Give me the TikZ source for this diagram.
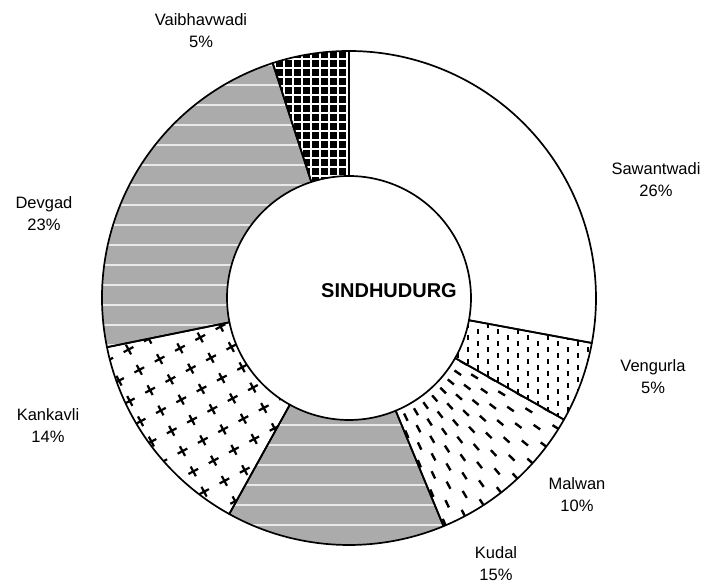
\documentclass[tikz,border=0pt]{standalone}
\usepackage{fontspec}
\setmainfont{Liberation Sans}
\usetikzlibrary{calc}
\definecolor{dstipple}{HTML}{ABABAB}
% one ring sector, from angle #1 to angle #2 (clockwise)
\newcommand{\ringpart}[2]{(349,287) ++(#1:247) arc[start angle=#1, end angle=#2, radius=247] -- ($(349,287)+(#2:122)$) arc[start angle=#2, end angle=#1, radius=122] -- cycle}

\begin{document}
\begin{tikzpicture}[x=1pt, y=1pt, line join=round,
  edge/.style={line width=1.7pt},
  vdash/.style={line width=2pt},
  mdash/.style={line width=2.4pt},
  xmark/.style={line width=2.2pt},
  band/.style={white, line width=2.5pt, opacity=0.75},
  gridline/.style={white, line width=1.5pt},
  lbl/.style={font=\fontsize{16.5}{22}\selectfont, align=center, inner sep=0pt}]
\useasboundingbox (0,0) rectangle (704,585);
% Vengurla : short vertical dashes
\begin{scope}
\clip \ringpart{-10.5}{-29.5};
\foreach \i in {0,...,15}
  \foreach \j in {0,...,9}{
    \draw[vdash] ({448+\i*10},{274-\j*12-mod(\i,2)*6}) -- ++(0,-5);}
\end{scope}
% Malwan : radial dashes
\begin{scope}
\clip \ringpart{-29.5}{-67.5};
\foreach \r [count=\k] in {128,144,...,256}
  \foreach \a in {-27,-32,...,-72}{
    \pgfmathsetmacro\b{\a+mod(\k,2)*2.5}
    \draw[mdash] ($(349,287)+({\b}:{\r})$) -- ($(349,287)+({\b}:{\r+8})$);}
\end{scope}
% Kudal and Devgad : grey stipple with light bands
\foreach \a/\b in {-67.5/-119, -168.5/-252}{
  \fill[dstipple] \ringpart{\a}{\b};
  \begin{scope}
  \clip \ringpart{\a}{\b};
  \foreach \y in {40,60,...,540}
    \draw[band] (90,\y) -- (610,\y);
  \end{scope}}
% Kankavli : crosses
\begin{scope}
\clip \ringpart{-119}{-168.5};
\begin{scope}[shift={(192,165)}, rotate=28]
\foreach \i in {-6,...,6}
  \foreach \j in {-6,...,6}{
    \draw[xmark] ({\i*23-5.5},{\j*23}) -- ++(11,0) ({\i*23},{\j*23-5.5}) -- ++(0,11);}
\end{scope}
\end{scope}
% Vaibhavwadi : black with white grid
\fill \ringpart{-252}{-270};
\begin{scope}
\clip \ringpart{-252}{-270};
\foreach \x in {266,275,...,356}
  \draw[gridline] (\x,280) -- (\x,545);
\foreach \y in {283,292,...,545}
  \draw[gridline] (260,\y) -- (360,\y);
\end{scope}
% sector outlines
\foreach \a/\b in {90/-10.5, -10.5/-29.5, -29.5/-67.5, -67.5/-119, -119/-168.5, -168.5/-252, -252/-270}
  \draw[edge] \ringpart{\a}{\b};
% labels
\node[lbl] (saw) at (656,405) {Sawantwadi\\26\%};
\node[lbl] (ven) at (653,208) {Vengurla\\5\%};
\node[lbl] (mal) at (577,90) {Malwan\\10\%};
\node[lbl] (kud) at (496,21.5) {Kudal\\15\%};
\node[lbl] (kan) at (48,159.5) {Kankavli\\14\%};
\node[lbl] (dev) at (44,371.5) {Devgad\\23\%};
\node[lbl] (vai) at (201,554) {Vaibhavwadi\\5\%};
\node[font=\fontsize{20}{24}\selectfont\bfseries, inner sep=0pt] (dist) at (389,294) {SINDHUDURG};
\end{tikzpicture}
\end{document}
